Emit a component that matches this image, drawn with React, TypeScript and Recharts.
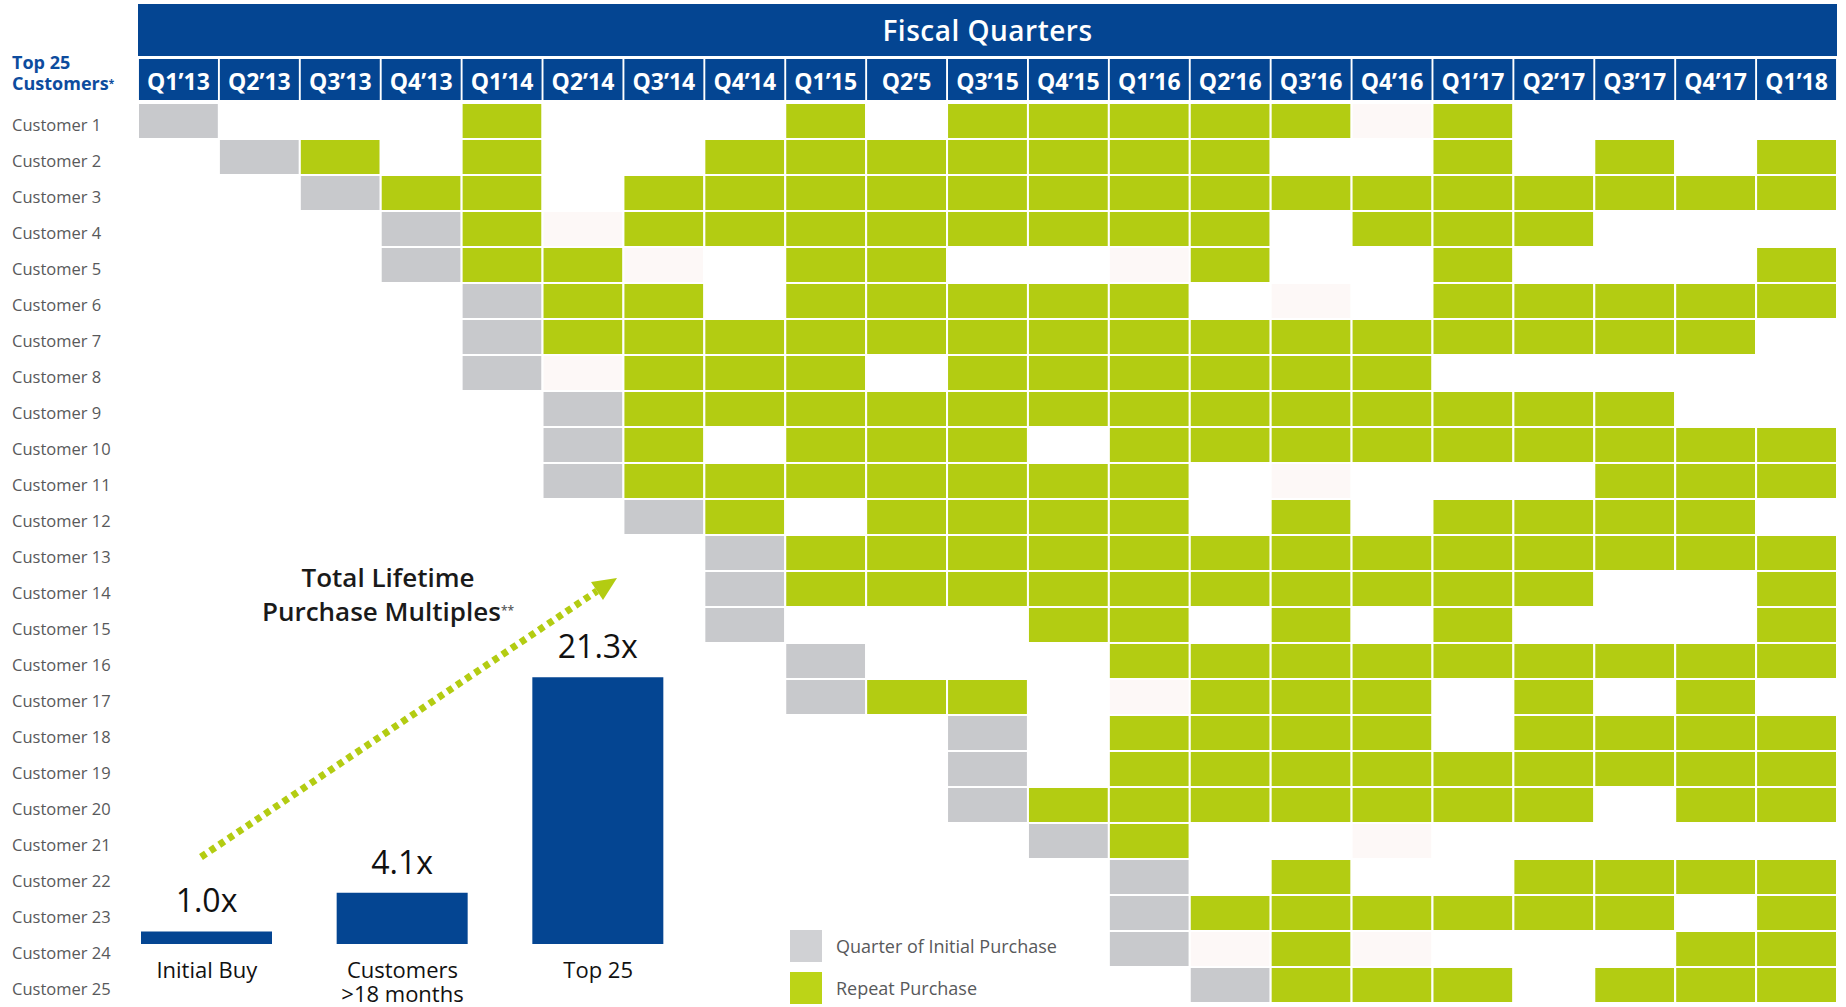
import React from 'react';
import { BarChart, Bar, XAxis, YAxis, Cell, LabelList } from 'recharts';

const QUARTERS = [
  'Q1’13', 'Q2’13', 'Q3’13', 'Q4’13', 'Q1’14', 'Q2’14', 'Q3’14', 'Q4’14',
  'Q1’15', 'Q2’5', 'Q3’15', 'Q4’15', 'Q1’16', 'Q2’16', 'Q3’16', 'Q4’16',
  'Q1’17', 'Q2’17', 'Q3’17', 'Q4’17', 'Q1’18',
];

const CUSTOMERS = [
  'Customer 1', 'Customer 2', 'Customer 3', 'Customer 4', 'Customer 5',
  'Customer 6', 'Customer 7', 'Customer 8', 'Customer 9', 'Customer 10',
  'Customer 11', 'Customer 12', 'Customer 13', 'Customer 14', 'Customer 15',
  'Customer 16', 'Customer 17', 'Customer 18', 'Customer 19', 'Customer 20',
  'Customer 21', 'Customer 22', 'Customer 23', 'Customer 24', 'Customer 25',
];

// I = quarter of initial purchase, R = repeat purchase, f = faint cell, . = none
const PURCHASES = [
  'I...R...R.RRRRRfR....',
  '.IR.R..RRRRRRR..R.R.R',
  '..IRR.RRRRRRRRRRRRRRR',
  '...IRfRRRRRRRR.RRR...',
  '...IRRf.RR..fR..R...R',
  '....IRR.RRRRR.f.RRRRR',
  '....IRRRRRRRRRRRRRRR.',
  '....IfRRR.RRRRRR.....',
  '.....IRRRRRRRRRRRRR..',
  '.....IR.RRR.RRRRRRRRR',
  '.....IRRRRRRR.f...RRR',
  '......IR.RRRR.R.RRRR.',
  '.......IRRRRRRRRRRRRR',
  '.......IRRRRRRRRRR..R',
  '.......I...RR.R.R...R',
  '........I...RRRRRRRRR',
  '........IRR.fRRR.R.R.',
  '..........I.RRRR.RRRR',
  '..........I.RRRRRRRRR',
  '..........IRRRRRRR.RR',
  '...........IR..f.....',
  '............I.R..RRRR',
  '............IRRRRRR.R',
  '............IfRf...RR',
  '.............IRRR.RRR',
];

const MULTIPLE_LABELS = ['Initial Buy', 'Customers\n>18 months', 'Top 25'];
const MULTIPLE_VALUES = [1.0, 4.1, 21.3];

const BLUE = '#044592';
const GREEN = '#b3cc12';
const GRAY = '#c8c9cc';
const TEXT_GRAY = '#58595b';
const FONT = '"Open Sans", "Noto Sans", sans-serif';

const CELL_FILL: Record<string, string> = {
  I: GRAY,
  R: GREEN,
  f: '#fdf8f7',
  '.': 'transparent',
};

const gridRows = CUSTOMERS.map((customer) => {
  const row: Record<string, string | number> = { customer };
  QUARTERS.forEach((_, i) => {
    row[`q${i}`] = 1;
  });
  return row;
});

const multiples = MULTIPLE_LABELS.map((label, i) => ({ label, value: MULTIPLE_VALUES[i] }));

const QuarterTick = ({ x, y, payload }: any) => {
  const label = QUARTERS[Math.floor(payload.value)];
  return (
    <g>
      <rect x={x - 39.5} y={y - 44} width={79} height={41} fill={BLUE} />
      <text
        x={x}
        y={y - 13}
        textAnchor="middle"
        fill="#fff"
        fontSize={23}
        fontWeight={700}
        fontFamily={FONT}
      >
        {label}
      </text>
    </g>
  );
};

const CustomerTick = ({ y, payload }: any) => (
  <text x={12} y={y} dy={10} fill={TEXT_GRAY} fontSize={16.5} fontFamily={FONT}>
    {payload.value}
  </text>
);

const MultipleTick = ({ x, y, payload }: any) => {
  const lines = String(payload.value).split('\n');
  return (
    <text x={x} y={y} textAnchor="middle" fill="#111" fontSize={22} fontWeight={500} fontFamily={FONT}>
      {lines.map((line, i) => (
        <tspan key={i} x={x} dy={i === 0 ? 34 : 24}>
          {line}
        </tspan>
      ))}
    </text>
  );
};

export default function App() {
  return (
    <div
      style={{
        position: 'absolute',
        left: 0,
        top: 0,
        width: 1846,
        height: 1007,
        background: '#fff',
        fontFamily: FONT,
        overflow: 'hidden',
      }}
    >
      <div
        style={{
          position: 'absolute',
          left: 138,
          top: 4,
          width: 1699,
          height: 52,
          background: BLUE,
          color: '#fff',
          fontSize: 28,
          fontWeight: 600,
          textAlign: 'center',
          lineHeight: '52px',
          letterSpacing: 0.5,
        }}
      >
        Fiscal Quarters
      </div>
      <div
        style={{
          position: 'absolute',
          left: 12,
          top: 52,
          color: '#0d4c9e',
          fontSize: 18,
          fontWeight: 700,
          lineHeight: '21px',
        }}
      >
        Top 25
        <br />
        Customers<span style={{ fontSize: 10, verticalAlign: 'top' }}>*</span>
      </div>

      <div style={{ position: 'absolute', left: 0, top: 0 }}>
        <BarChart
          layout="vertical"
          width={1846}
          height={1007}
          data={gridRows}
          margin={{ top: 59, right: 9, bottom: 4, left: 0 }}
          barCategoryGap={0}
        >
          <XAxis
            type="number"
            orientation="top"
            domain={[0, QUARTERS.length]}
            ticks={QUARTERS.map((_, i) => i + 0.5)}
            interval={0}
            height={44}
            axisLine={false}
            tickLine={false}
            tickSize={0}
            tickMargin={0}
            tick={<QuarterTick />}
          />
          <YAxis
            type="category"
            dataKey="customer"
            width={138}
            interval={0}
            axisLine={false}
            tickLine={false}
            tick={<CustomerTick />}
          />
          {QUARTERS.map((q, i) => (
            <Bar
              key={q}
              dataKey={`q${i}`}
              stackId="grid"
              stroke="#fff"
              strokeWidth={2}
              isAnimationActive={false}
            >
              {gridRows.map((_, j) => (
                <Cell key={j} fill={CELL_FILL[PURCHASES[j][i]]} />
              ))}
            </Bar>
          ))}
        </BarChart>
      </div>

      <div style={{ position: 'absolute', left: 109, top: 600 }}>
        <BarChart
          width={587}
          height={407}
          data={multiples}
          margin={{ top: 66, right: 0, bottom: 0, left: 0 }}
          barSize={131}
        >
          <XAxis
            dataKey="label"
            height={63}
            axisLine={false}
            tickLine={false}
            tickSize={0}
            tickMargin={0}
            interval={0}
            tick={<MultipleTick />}
          />
          <YAxis hide domain={[0, 22.2]} />
          <Bar dataKey="value" fill={BLUE} isAnimationActive={false}>
            <LabelList
              dataKey="value"
              position="top"
              offset={19}
              formatter={(v: any) => `${Number(v).toFixed(1)}x`}
              fill="#111"
              fontSize={32}
              fontWeight={500}
              fontFamily={FONT}
            />
          </Bar>
        </BarChart>
      </div>

      <div
        style={{
          position: 'absolute',
          left: 188,
          top: 560,
          width: 400,
          textAlign: 'center',
          fontSize: 26,
          fontWeight: 600,
          color: '#1a1a1a',
          lineHeight: '34px',
        }}
      >
        Total Lifetime
        <br />
        Purchase Multiples<span style={{ fontSize: 12, verticalAlign: 'top', color: TEXT_GRAY }}>**</span>
      </div>

      <svg
        width={1846}
        height={1007}
        style={{ position: 'absolute', left: 0, top: 0, pointerEvents: 'none' }}
      >
        <line
          x1={201}
          y1={857}
          x2={597}
          y2={591}
          stroke={GREEN}
          strokeWidth={7}
          strokeDasharray="6 5"
        />
        <polygon points="617,578 603,600 591,582" fill={GREEN} />
      </svg>

      <div style={{ position: 'absolute', left: 790, top: 930, color: TEXT_GRAY, fontSize: 18 }}>
        <div style={{ display: 'flex', alignItems: 'center', height: 32 }}>
          <span style={{ width: 32, height: 32, background: '#d0d1d4', display: 'inline-block' }} />
          <span style={{ marginLeft: 14 }}>Quarter of Initial Purchase</span>
        </div>
        <div style={{ display: 'flex', alignItems: 'center', height: 32, marginTop: 10 }}>
          <span style={{ width: 32, height: 32, background: '#bcd417', display: 'inline-block' }} />
          <span style={{ marginLeft: 14 }}>Repeat Purchase</span>
        </div>
      </div>
    </div>
  );
}
